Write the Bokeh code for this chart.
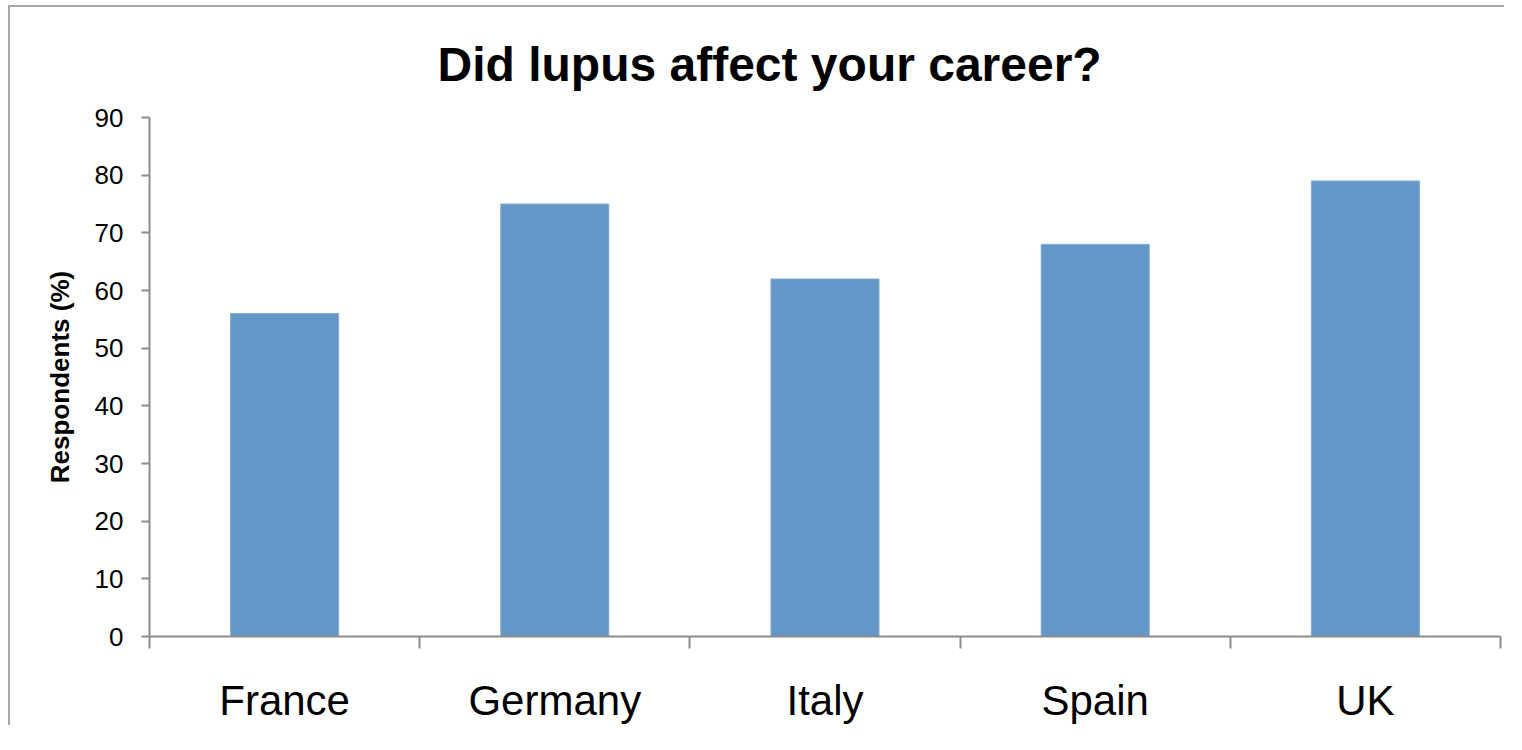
from bokeh.plotting import figure
from bokeh.models import Range1d, FixedTicker
from bokeh.embed import file_html
from bokeh.resources import INLINE

countries = ["France", "Germany", "Italy", "Spain", "UK"]
respondents = [56, 75, 62, 68, 79]
y_ticks = [0, 10, 20, 30, 40, 50, 60, 70, 80, 90]
title_text = "Did lupus affect your career?"
y_label = "Respondents (%)"

centers = [i + 0.5 for i in range(len(countries))]
bounds = list(range(len(countries) + 1))

FONT = "Liberation Sans"
AXIS_COLOR = "#8c8c8c"

p = figure(width=1496, height=720, output_backend="svg", toolbar_location=None,
           x_range=Range1d(0, len(countries)), y_range=Range1d(0, 90),
           min_border_left=139, min_border_right=6, min_border_top=110,
           min_border_bottom=91)
p.styles = {"border-top": "2px solid #a8a8a8", "border-left": "2px solid #a8a8a8",
            "margin-left": "8px", "margin-top": "5px"}
p.outline_line_color = None
p.grid.visible = False
p.background_fill_color = "white"
p.border_fill_color = "white"

p.vbar(x=centers, top=respondents, width=0.4, bottom=0,
       fill_color="#6497c8", line_color="#86acd6", line_width=1)

p.title.text = title_text
p.title.text_font = FONT
p.title.text_font_style = "bold"
p.title.text_font_size = "48px"
p.title.text_color = "black"
p.title.align = "left"
p.title.offset = 288
p.title.standoff = 54
p.title.text_line_height = 1.0

# x axis
xa = p.xaxis[0]
xa.ticker = FixedTicker(ticks=centers, minor_ticks=bounds)
xa.major_label_overrides = {c: n for c, n in zip(centers, countries)}
xa.major_tick_out = 0
xa.major_tick_in = 0
xa.minor_tick_out = 12
xa.minor_tick_in = 0
xa.minor_tick_line_color = AXIS_COLOR
xa.minor_tick_line_width = 2
xa.axis_line_color = AXIS_COLOR
xa.axis_line_width = 2
xa.major_label_text_font = FONT
xa.major_label_text_font_size = "42px"
xa.major_label_text_color = "black"
xa.major_label_standoff = 28

# y axis
ya = p.yaxis[0]
ya.ticker = FixedTicker(ticks=y_ticks)
ya.major_tick_out = 8
ya.major_tick_in = 0
ya.minor_tick_out = 0
ya.minor_tick_in = 0
ya.major_tick_line_color = AXIS_COLOR
ya.major_tick_line_width = 2
ya.axis_line_color = AXIS_COLOR
ya.axis_line_width = 2
ya.major_label_text_font = FONT
ya.major_label_text_font_size = "26px"
ya.major_label_text_color = "black"
ya.major_label_standoff = 18
ya.axis_label = y_label
ya.axis_label_text_font = FONT
ya.axis_label_text_font_style = "bold"
ya.axis_label_text_font_size = "26px"
ya.axis_label_text_color = "black"
ya.axis_label_standoff = 17

open("out.html", "w").write(file_html(p, INLINE))
